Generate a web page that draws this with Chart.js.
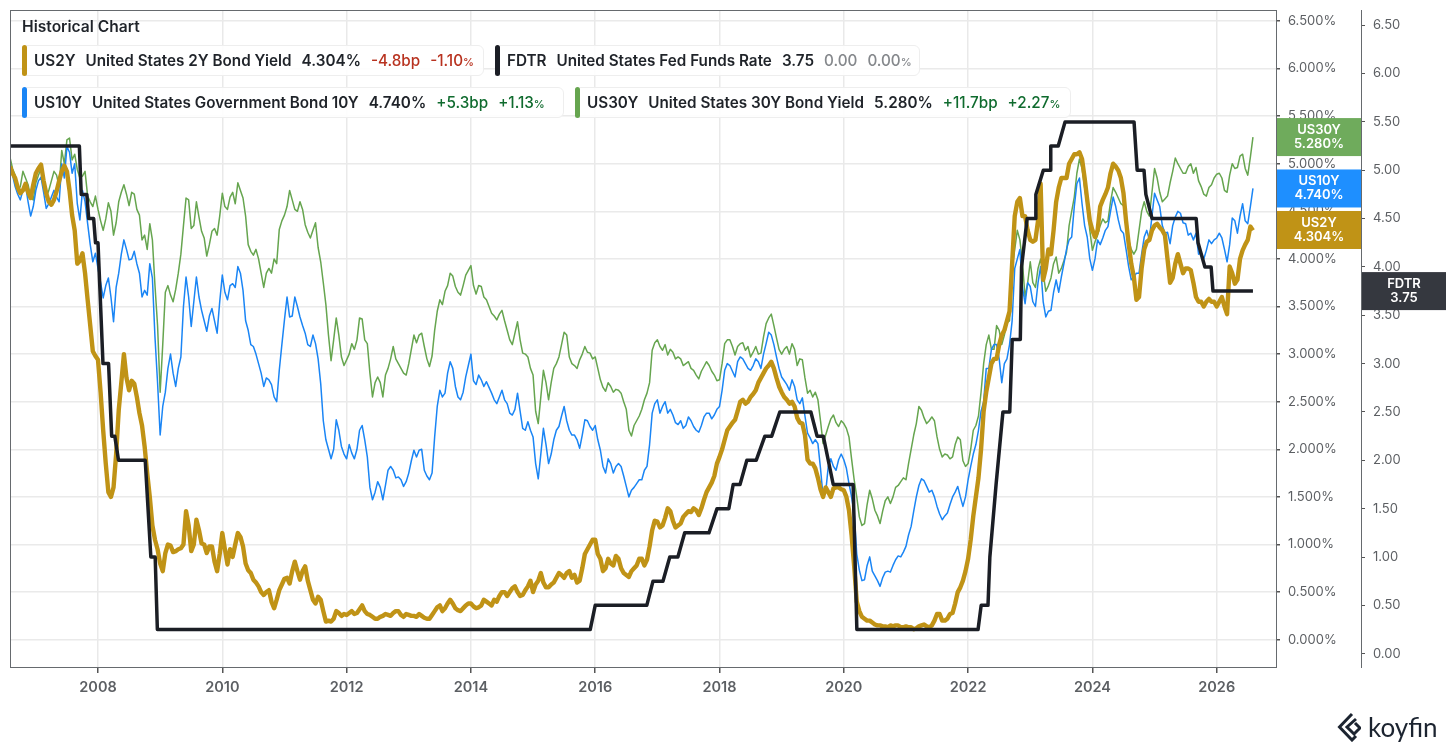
<!DOCTYPE html>
<html>
<head>
<meta charset="utf-8">
<title>Historical Chart</title>
<script src="https://cdn.jsdelivr.net/npm/chart.js@4"></script>
<style>
  html, body { margin: 0; padding: 0; background: #fff; width: 1456px; height: 752px; overflow: hidden; }
  body { position: relative; font-family: Inter, "Noto Sans", sans-serif; color: #1f2329; }
  canvas { position: absolute; left: 0; top: 0; }
  .title { position: absolute; left: 22px; top: 18px; font-size: 15.6px; font-weight: 600; line-height: 18px; }
  .chip { position: absolute; height: 31px; box-sizing: border-box; display: flex; align-items: center; gap: 10px;
          padding: 0 8px 0 11px; background: rgba(255,255,255,.88); border: 1px solid #eeeeee; border-radius: 6px;
          font-size: 15.25px; font-weight: 600; white-space: nowrap; }
  .chip i { position: absolute; left: -1px; top: -1px; bottom: -1px; width: 5px; border-radius: 3px; }
  .chip small { font-size: 11px; }
  .neg { color: #b8321f; font-weight: 500; }
  .pos { color: #0f6b2e; font-weight: 500; }
  .flat { color: #85888c; font-weight: 500; }
  .logo { position: absolute; left: 1337px; top: 709px; display: flex; align-items: center; gap: 7px; color: #1c2430; }
  .logo span { font-size: 26px; line-height: 36px; font-family: Lato, Inter, sans-serif; }
</style>
</head>
<body>
<canvas id="historyChart" width="1456" height="752"></canvas>
<div class="title">Historical Chart</div>
<div class="chip" style="left:22px;top:45px;width:462px"><i style="background:#c09316"></i><span>US2Y</span><span>United States 2Y Bond Yield</span><span>4.304%</span><span class="neg">-4.8bp</span><span class="neg">-1.10<small>%</small></span></div>
<div class="chip" style="left:495px;top:45px;width:425px"><i style="background:#1b1e25"></i><span>FDTR</span><span>United States Fed Funds Rate</span><span>3.75</span><span class="flat">0.00</span><span class="flat">0.00<small>%</small></span></div>
<div class="chip" style="left:22px;top:87px;width:542px"><i style="background:#1a85f5"></i><span>US10Y</span><span>United States Government Bond 10Y</span><span>4.740%</span><span class="pos">+5.3bp</span><span class="pos">+1.13<small>%</small></span></div>
<div class="chip" style="left:575px;top:87px;width:496px"><i style="background:#66a54f"></i><span>US30Y</span><span>United States 30Y Bond Yield</span><span>5.280%</span><span class="pos">+11.7bp</span><span class="pos">+2.27<small>%</small></span></div>
<div class="logo">
  <svg width="24" height="30" viewBox="0 0 24 30"><path d="M15 2 L2.5 15 L15 28 L19 24 M19 7 L10 15 L17 22 L23 16 L18 11" fill="none" stroke="#1c2430" stroke-width="3"/></svg>
  <span>koyfin</span>
</div>
<script>
// month of each yield reading, Aug 2006 to Aug 2026
const months = [
  '2006-08','2006-09','2006-10','2006-11','2006-12',
  '2007-01','2007-02','2007-03','2007-04','2007-05','2007-06','2007-07','2007-08','2007-09','2007-10','2007-11','2007-12',
  '2008-01','2008-02','2008-03','2008-04','2008-05','2008-06','2008-07','2008-08','2008-09','2008-10','2008-11','2008-12',
  '2009-01','2009-02','2009-03','2009-04','2009-05','2009-06','2009-07','2009-08','2009-09','2009-10','2009-11','2009-12',
  '2010-01','2010-02','2010-03','2010-04','2010-05','2010-06','2010-07','2010-08','2010-09','2010-10','2010-11','2010-12',
  '2011-01','2011-02','2011-03','2011-04','2011-05','2011-06','2011-07','2011-08','2011-09','2011-10','2011-11','2011-12',
  '2012-01','2012-02','2012-03','2012-04','2012-05','2012-06','2012-07','2012-08','2012-09','2012-10','2012-11','2012-12',
  '2013-01','2013-02','2013-03','2013-04','2013-05','2013-06','2013-07','2013-08','2013-09','2013-10','2013-11','2013-12',
  '2014-01','2014-02','2014-03','2014-04','2014-05','2014-06','2014-07','2014-08','2014-09','2014-10','2014-11','2014-12',
  '2015-01','2015-02','2015-03','2015-04','2015-05','2015-06','2015-07','2015-08','2015-09','2015-10','2015-11','2015-12',
  '2016-01','2016-02','2016-03','2016-04','2016-05','2016-06','2016-07','2016-08','2016-09','2016-10','2016-11','2016-12',
  '2017-01','2017-02','2017-03','2017-04','2017-05','2017-06','2017-07','2017-08','2017-09','2017-10','2017-11','2017-12',
  '2018-01','2018-02','2018-03','2018-04','2018-05','2018-06','2018-07','2018-08','2018-09','2018-10','2018-11','2018-12',
  '2019-01','2019-02','2019-03','2019-04','2019-05','2019-06','2019-07','2019-08','2019-09','2019-10','2019-11','2019-12',
  '2020-01','2020-02','2020-03','2020-04','2020-05','2020-06','2020-07','2020-08','2020-09','2020-10','2020-11','2020-12',
  '2021-01','2021-02','2021-03','2021-04','2021-05','2021-06','2021-07','2021-08','2021-09','2021-10','2021-11','2021-12',
  '2022-01','2022-02','2022-03','2022-04','2022-05','2022-06','2022-07','2022-08','2022-09','2022-10','2022-11','2022-12',
  '2023-01','2023-02','2023-03','2023-04','2023-05','2023-06','2023-07','2023-08','2023-09','2023-10','2023-11','2023-12',
  '2024-01','2024-02','2024-03','2024-04','2024-05','2024-06','2024-07','2024-08','2024-09','2024-10','2024-11','2024-12',
  '2025-01','2025-02','2025-03','2025-04','2025-05','2025-06','2025-07','2025-08','2025-09','2025-10','2025-11','2025-12',
  '2026-01','2026-02','2026-03','2026-04','2026-05','2026-06','2026-07','2026-08'
];

// readings at the start of each month
const us30y = [
  5.07,4.88,4.76,4.85,4.65,
  4.8,4.95,4.65,4.82,4.88,5.14,5.25,5.04,4.94,4.87,4.66,4.55,
  4.52,4.3,4.59,4.25,4.6,4.78,4.56,4.68,4.46,4.25,4.37,3.72,
  2.6,3.65,3.62,3.68,4.05,4.64,4.32,4.6,4.29,4.03,4.29,4.25,
  4.69,4.52,4.7,4.8,4.64,4.15,4.04,4.0,3.7,3.9,4.0,4.31,
  4.46,4.72,4.52,4.6,4.36,4.22,4.38,3.97,3.52,2.93,3.38,2.97,
  2.94,3.11,3.15,3.37,3.11,2.55,2.76,2.55,2.85,3.08,2.9,2.8,
  2.9,3.2,3.2,3.08,2.87,3.25,3.57,3.66,3.85,3.71,3.62,3.83,
  3.93,3.63,3.71,3.57,3.43,3.36,3.46,3.25,3.1,3.34,3.01,2.97,
  2.78,2.27,2.83,2.52,2.85,2.97,3.23,2.97,2.88,2.94,3.08,3.01,
  2.97,2.73,2.61,2.66,2.63,2.59,2.42,2.14,2.3,2.42,2.59,3.04,
  3.15,3.04,2.99,3.02,2.97,2.88,2.92,2.83,2.74,2.87,2.88,2.78,
  2.73,3.11,3.15,2.99,3.11,3.04,2.97,3.08,3.01,3.32,3.42,3.17,
  3.0,3.08,3.11,2.88,2.94,2.59,2.55,2.52,2.06,2.24,2.36,2.24,
  2.27,2.13,1.68,1.29,1.22,1.57,1.36,1.22,1.46,1.43,1.6,1.66,
  1.68,2.0,2.27,2.41,2.27,2.34,2.13,1.92,1.94,1.92,2.13,1.88,
  1.85,2.2,2.35,2.9,3.2,3.05,3.25,3.2,3.35,4.1,4.2,3.6,
  3.97,3.7,4.0,3.66,3.8,4.02,3.9,4.07,4.5,4.9,4.95,4.56,
  4.09,4.25,4.42,4.4,4.75,4.64,4.56,4.2,4.05,4.3,4.6,4.45,
  4.95,4.7,4.63,4.8,5.06,4.95,4.9,5.0,4.96,4.76,4.66,4.78,
  4.89,4.85,4.7,5.0,4.96,5.1,4.88,5.28
];
const us10y = [
  4.97,4.76,4.62,4.78,4.45,
  4.72,4.86,4.53,4.65,4.65,5.0,5.18,4.9,4.58,4.72,4.37,3.97,
  3.9,3.59,3.8,3.34,3.85,4.2,3.99,4.08,3.85,3.67,3.95,3.18,
  2.15,2.6,3.0,2.66,2.97,3.81,3.29,3.81,3.46,3.24,3.48,3.22,
  3.83,3.57,3.74,3.92,3.67,3.25,3.08,2.9,2.66,2.73,2.55,2.83,
  3.36,3.39,3.6,3.39,3.22,3.08,3.11,2.69,2.1,1.9,2.31,2.03,
  1.9,1.96,2.0,2.25,1.92,1.47,1.66,1.47,1.78,1.78,1.71,1.61,
  1.75,1.99,1.99,1.78,1.68,2.13,2.62,2.59,2.92,2.66,2.52,2.76,
  3.0,2.68,2.73,2.71,2.59,2.48,2.62,2.48,2.36,2.59,2.22,2.29,
  2.13,1.69,2.22,1.85,2.1,2.24,2.45,2.2,2.15,2.01,2.31,2.24,
  2.25,1.99,1.75,1.85,1.82,1.82,1.61,1.57,1.64,1.68,1.82,2.38,
  2.52,2.45,2.38,2.36,2.26,2.22,2.34,2.24,2.18,2.34,2.38,2.36,
  2.45,2.83,2.88,2.76,2.97,2.9,2.83,2.95,2.85,3.11,3.2,2.97,
  2.76,2.68,2.73,2.52,2.54,2.17,2.06,2.06,1.5,1.82,1.82,1.89,
  1.89,1.64,1.33,0.73,0.63,0.87,0.67,0.56,0.71,0.71,0.84,0.87,
  0.98,1.19,1.5,1.69,1.61,1.57,1.4,1.26,1.33,1.5,1.61,1.4,
  1.68,1.95,2.2,2.5,2.85,3.1,2.95,2.9,3.1,3.9,4.1,3.53,
  3.71,3.5,3.92,3.39,3.46,3.78,3.81,4.1,4.23,4.79,4.58,4.23,
  3.88,4.2,4.22,4.34,4.65,4.41,4.27,3.92,3.81,3.85,4.23,4.2,
  4.69,4.55,4.27,4.16,4.44,4.48,4.37,4.27,4.27,4.06,4.09,4.16,
  4.22,4.22,3.97,4.43,4.27,4.58,4.37,4.74
];
const us2y = [
  4.97,4.85,4.69,4.79,4.64,
  4.9,4.99,4.69,4.57,4.71,4.92,4.92,4.46,3.95,4.06,3.57,3.03,
  2.94,2.2,1.55,1.6,2.41,3.0,2.62,2.69,2.38,2.03,1.5,1.05,
  0.8,0.91,0.99,0.93,0.96,1.35,0.93,1.26,1.01,0.91,0.98,0.72,
  1.12,0.79,0.87,1.12,0.98,0.73,0.63,0.56,0.47,0.52,0.33,0.52,
  0.64,0.59,0.82,0.63,0.77,0.52,0.38,0.42,0.19,0.19,0.3,0.25,
  0.26,0.3,0.28,0.36,0.27,0.24,0.22,0.25,0.26,0.28,0.3,0.24,
  0.26,0.25,0.27,0.23,0.22,0.3,0.36,0.33,0.42,0.33,0.3,0.36,
  0.38,0.33,0.36,0.4,0.36,0.4,0.5,0.46,0.54,0.5,0.47,0.56,
  0.5,0.62,0.6,0.55,0.6,0.7,0.65,0.72,0.68,0.62,0.9,1.0,
  1.05,0.85,0.75,0.8,0.88,0.75,0.68,0.72,0.78,0.85,0.84,1.15,
  1.24,1.2,1.38,1.25,1.2,1.29,1.35,1.38,1.31,1.47,1.6,1.72,
  1.92,2.1,2.24,2.31,2.5,2.48,2.55,2.62,2.75,2.85,2.92,2.75,
  2.6,2.52,2.5,2.33,2.27,1.89,1.85,1.7,1.5,1.55,1.59,1.6,
  1.57,1.36,0.77,0.3,0.22,0.2,0.16,0.15,0.14,0.15,0.15,0.13,
  0.14,0.13,0.12,0.15,0.14,0.15,0.27,0.2,0.22,0.28,0.5,0.62,
  0.85,1.3,1.7,2.4,2.75,2.95,3.1,3.25,3.45,4.45,4.64,4.45,
  4.2,4.2,4.79,3.9,4.05,4.6,4.85,4.85,5.05,5.1,5.05,4.62,
  4.3,4.3,4.62,4.75,5.0,4.93,4.69,4.16,3.81,3.6,4.1,4.2,
  4.35,4.33,4.25,3.75,3.95,3.95,3.9,3.88,3.6,3.55,3.55,3.55,
  3.5,3.6,3.42,3.85,3.78,4.09,4.2,4.3
];

// readings halfway through each month, Aug 2006 to Jul 2026
const us30yMid = [
  4.95,4.72,4.92,4.78,4.62,
  4.88,4.75,4.72,4.92,4.76,5.0,5.27,5.1,4.85,4.92,4.6,4.66,
  4.4,4.42,4.5,4.38,4.7,4.68,4.7,4.52,4.2,4.1,4.2,3.3,
  3.1,3.72,3.55,3.85,4.35,4.62,4.35,4.44,4.22,4.15,4.32,4.45,
  4.55,4.65,4.58,4.72,4.45,4.08,4.1,3.85,3.85,3.85,3.95,4.4,
  4.55,4.62,4.5,4.52,4.28,4.3,4.12,3.75,3.2,3.15,3.2,2.88,
  3.0,3.05,3.38,3.15,2.8,2.7,2.7,2.78,2.95,2.95,2.85,2.78,
  3.05,3.12,3.22,2.95,2.98,3.45,3.52,3.72,3.82,3.65,3.72,3.88,
  3.72,3.72,3.6,3.5,3.4,3.42,3.35,3.15,3.22,3.15,3.0,2.85,
  2.4,2.55,2.7,2.7,2.9,3.1,3.2,2.9,2.85,3.0,3.02,2.95,
  2.85,2.65,2.7,2.6,2.62,2.5,2.2,2.25,2.35,2.52,2.7,3.12,
  3.08,3.1,3.05,2.95,2.95,2.9,2.85,2.78,2.82,2.92,2.82,2.72,
  2.9,3.15,3.08,3.08,3.12,3.08,3.02,3.0,3.18,3.38,3.3,3.05,
  3.05,3.0,3.05,2.95,2.75,2.62,2.6,2.3,2.15,2.32,2.28,2.3,
  2.22,1.9,1.5,1.2,1.42,1.48,1.3,1.35,1.5,1.5,1.62,1.7,
  1.85,2.15,2.45,2.33,2.3,2.3,2.0,1.95,1.9,2.05,2.1,1.82,
  2.0,2.25,2.6,3.1,3.05,3.3,3.1,3.33,3.9,4.3,3.95,3.75,
  3.75,3.9,3.85,3.72,3.95,3.85,3.98,4.35,4.65,5.05,4.75,4.3,
  4.18,4.35,4.38,4.6,4.7,4.58,4.35,4.1,4.1,4.5,4.5,4.7,
  4.85,4.6,4.66,4.92,5.0,4.9,4.97,4.9,4.82,4.68,4.75,4.85,
  4.9,4.72,4.88,4.95,5.08,4.95,5.07
];
const us10yMid = [
  4.88,4.68,4.72,4.6,4.55,
  4.82,4.7,4.58,4.72,4.6,4.85,5.12,5.0,4.41,4.6,4.15,4.06,
  3.75,3.72,3.6,3.7,4.05,4.1,4.0,3.95,3.6,3.62,3.8,2.7,
  2.45,2.85,2.8,2.85,3.5,3.6,3.55,3.6,3.35,3.4,3.35,3.55,
  3.65,3.72,3.7,3.85,3.35,3.1,3.0,2.8,2.75,2.68,2.5,3.1,
  3.6,3.4,3.5,3.3,3.1,3.2,2.95,2.3,2.0,2.0,2.2,1.95,
  2.05,1.9,2.2,2.1,1.6,1.55,1.6,1.62,1.82,1.7,1.68,1.66,
  1.88,1.92,2.0,1.72,1.75,2.45,2.55,2.8,2.85,2.55,2.6,2.88,
  2.72,2.78,2.66,2.65,2.52,2.55,2.52,2.38,2.42,2.4,2.2,2.2,
  1.85,1.95,2.05,1.95,2.2,2.35,2.3,2.15,2.1,2.15,2.3,2.2,
  2.1,1.82,1.9,1.75,1.85,1.72,1.5,1.6,1.68,1.78,2.05,2.48,
  2.38,2.5,2.42,2.28,2.3,2.25,2.3,2.2,2.25,2.38,2.32,2.42,
  2.62,2.9,2.82,2.92,2.95,2.85,2.88,2.92,3.0,3.23,3.1,2.85,
  2.72,2.62,2.66,2.48,2.35,2.12,2.1,1.8,1.55,1.9,1.78,1.95,
  1.8,1.5,0.9,0.62,0.78,0.72,0.62,0.65,0.72,0.78,0.88,0.92,
  1.1,1.35,1.62,1.67,1.55,1.5,1.32,1.3,1.42,1.55,1.5,1.5,
  1.82,2.05,2.4,2.85,3.05,3.1,2.7,2.95,3.35,4.0,3.7,3.75,
  3.55,3.75,3.55,3.45,3.65,3.65,3.95,4.2,4.55,4.85,4.35,4.0,
  4.0,4.15,4.3,4.5,4.55,4.3,4.1,3.78,3.85,4.05,4.3,4.45,
  4.62,4.35,4.28,4.35,4.5,4.38,4.25,4.2,4.05,4.0,4.2,4.2,
  4.27,4.1,4.15,4.4,4.45,4.4,4.55
];
const us2yMid = [
  4.9,4.75,4.72,4.7,4.78,
  4.95,4.82,4.6,4.62,4.82,4.98,4.72,4.3,3.98,3.85,3.3,2.98,
  2.6,1.85,1.5,1.95,2.7,2.75,2.72,2.55,2.25,1.75,1.2,0.95,
  0.72,1.0,0.92,0.95,1.0,1.2,1.0,1.15,1.0,0.98,0.82,0.9,
  0.95,0.95,1.0,1.08,0.8,0.7,0.6,0.5,0.5,0.4,0.42,0.58,
  0.65,0.72,0.72,0.72,0.62,0.42,0.45,0.3,0.2,0.22,0.28,0.27,
  0.28,0.27,0.32,0.3,0.26,0.22,0.24,0.27,0.25,0.3,0.26,0.27,
  0.25,0.24,0.25,0.22,0.26,0.34,0.3,0.38,0.38,0.31,0.33,0.38,
  0.35,0.34,0.42,0.38,0.42,0.46,0.5,0.5,0.56,0.46,0.52,0.62,
  0.58,0.7,0.55,0.58,0.65,0.68,0.7,0.65,0.6,0.75,0.95,1.05,
  0.9,0.72,0.85,0.78,0.85,0.7,0.66,0.75,0.85,0.78,0.98,1.25,
  1.18,1.28,1.35,1.18,1.22,1.32,1.34,1.36,1.38,1.55,1.65,1.85,
  2.0,2.2,2.28,2.4,2.52,2.5,2.58,2.7,2.8,2.88,2.85,2.66,
  2.55,2.48,2.45,2.28,2.15,1.85,1.8,1.58,1.6,1.5,1.6,1.58,
  1.5,1.1,0.4,0.24,0.2,0.18,0.15,0.14,0.13,0.14,0.15,0.13,
  0.13,0.11,0.14,0.16,0.13,0.2,0.27,0.2,0.27,0.38,0.55,0.72,
  1.05,1.5,2.0,2.6,2.9,2.95,3.2,3.35,3.95,4.6,4.45,4.3,
  4.18,4.4,3.78,4.1,4.3,4.75,4.85,5.0,5.1,5.12,4.85,4.4,
  4.23,4.55,4.68,4.9,4.97,4.85,4.4,3.95,3.57,3.9,4.18,4.3,
  4.37,4.3,4.0,3.8,4.05,3.85,3.9,3.75,3.55,3.5,3.58,3.55,
  3.55,3.5,3.92,3.74,4.0,4.15,4.34
];

// fed funds target: each move starts and ends on its own date
const fdtrDates = [
  2006.584,2007.70,2007.73,2007.82,2007.85,2007.93,2007.96,2008.0,2008.08,2008.17,2008.22,2008.27,2008.33,
  2008.76,2008.85,2008.92,2008.955,2015.92,2016.0,2016.83,2016.93,2017.09,2017.20,2017.33,2017.44,2017.83,
  2017.96,2018.15,2018.22,2018.33,2018.44,2018.59,2018.73,2018.84,2018.97,2019.47,2019.57,2019.67,2019.83,
  2020.15,2020.21,2022.16,2022.21,2022.32,2022.35,2022.45,2022.56,2022.67,2022.71,2022.84,2022.86,2022.95,
  2023.08,2023.09,2023.21,2023.32,2023.33,2023.45,2023.56,2024.67,2024.72,2024.83,2024.86,2024.96,2025.67,
  2025.70,2025.81,2025.91,2025.94,2026.583
];
const fdtrValues = [
  5.25,5.25,4.75,4.75,4.5,4.5,4.25,4.25,3.0,3.0,2.25,2.25,2.0,
  2.0,1.0,1.0,0.25,0.25,0.5,0.5,0.75,0.75,1.0,1.0,1.25,1.25,
  1.5,1.5,1.75,1.75,2.0,2.0,2.25,2.25,2.5,2.5,2.25,2.25,1.75,
  1.75,0.25,0.25,0.5,0.5,1.0,1.75,2.5,2.5,3.25,3.25,4.0,4.5,
  4.5,4.75,5.0,5.0,5.25,5.25,5.5,5.5,5.0,5.0,4.75,4.5,4.5,
  4.25,4.0,4.0,3.75,3.75
];

const yearTicks = [2008,2010,2012,2014,2016,2018,2020,2022,2024,2026];
const yieldTicks = [0,0.5,1,1.5,2,2.5,3,3.5,4,4.5,5,5.5,6,6.5];
const fdtrTicks = [0,0.5,1,1.5,2,2.5,3,3.5,4,4.5,5,5.5,6,6.5];

const lastTags = [
  { axis: 'yPct', value: 5.28, lines: ['US30Y', '5.280%'], color: '#6fab5c' },
  { axis: 'yPct', value: 4.74, lines: ['US10Y', '4.740%'], color: '#1e8fff' },
  { axis: 'yPct', value: 4.304, lines: ['US2Y', '4.304%'], color: '#c09316' },
  { axis: 'yFed', value: 3.75, lines: ['FDTR', '3.75'], color: '#35383f' }
];

const monthToYear = m => Number(m.slice(0, 4)) + (Number(m.slice(5)) - 1) / 12;

// puts the start-of-month and mid-month readings back in date order
function toPoints(values, midValues) {
  const points = [];
  values.forEach((v, i) => {
    points.push({ x: monthToYear(months[i]), y: v });
    if (i < midValues.length) points.push({ x: monthToYear(months[i]) + 1 / 24, y: midValues[i] });
  });
  return points;
}

// frame round the plot and the coloured last-value tags on the axes
const framePlugin = {
  id: 'frame',
  afterDraw(chart) {
    const { ctx, chartArea: a, scales } = chart;
    ctx.save();
    ctx.strokeStyle = '#666a6e';
    ctx.lineWidth = 1;
    ctx.strokeRect(a.left + 0.5, a.top + 0.5, a.width, a.height);
    ctx.textAlign = 'center';
    ctx.textBaseline = 'middle';
    ctx.font = '600 13px Inter';
    lastTags.forEach(tag => {
      const scale = scales[tag.axis];
      const y = scale.getPixelForValue(tag.value);
      ctx.fillStyle = tag.color;
      ctx.fillRect(scale.left + 1, y - 19, 84, 38);
      ctx.fillStyle = '#fff';
      ctx.fillText(tag.lines[0], scale.left + 43, y - 7);
      ctx.fillText(tag.lines[1], scale.left + 43, y + 7);
    });
    ctx.restore();
  }
};

const ctx = document.getElementById('historyChart').getContext('2d');
const historyChart = new Chart(ctx, {
  type: 'line',
  data: {
    datasets: [
      { label: 'FDTR', data: fdtrDates.map((d, i) => ({ x: d, y: fdtrValues[i] })), yAxisID: 'yFed', borderColor: '#1b1e25', borderWidth: 3.5 },
      { label: 'US2Y', data: toPoints(us2y, us2yMid), yAxisID: 'yPct', borderColor: '#c09316', borderWidth: 4.4 },
      { label: 'US10Y', data: toPoints(us10y, us10yMid), yAxisID: 'yPct', borderColor: '#1a85f5', borderWidth: 1.5 },
      { label: 'US30Y', data: toPoints(us30y, us30yMid), yAxisID: 'yPct', borderColor: '#66a54f', borderWidth: 1.5 }
    ]
  },
  options: {
    responsive: false,
    animation: false,
    layout: { padding: { left: 10, top: 10, right: 0, bottom: 0 } },
    elements: { point: { radius: 0 }, line: { tension: 0, borderJoinStyle: 'round' } },
    plugins: { legend: { display: false }, tooltip: { enabled: false } },
    scales: {
      x: {
        type: 'linear',
        min: 2006.584,
        max: 2026.954,
        afterBuildTicks: axis => { axis.ticks = yearTicks.map(v => ({ value: v })); },
        afterFit: axis => { axis.height = 85; axis.paddingLeft = 0; axis.paddingRight = 0; },
        grid: { color: '#e9e9e9', lineWidth: 1.5, tickColor: '#555', tickLength: 6 },
        border: { display: false },
        ticks: { color: '#5c5f63', maxRotation: 0, padding: 6, font: { family: 'Inter', size: 14.5, weight: '600' }, callback: v => String(v) }
      },
      yPct: {
        position: 'right',
        weight: 1,
        min: -0.287,
        max: 6.615,
        afterBuildTicks: axis => { axis.ticks = yieldTicks.map(v => ({ value: v })); },
        afterFit: axis => { axis.width = 85; axis.paddingTop = 0; axis.paddingBottom = 0; },
        grid: { color: '#eaeaea', lineWidth: 1.5, tickColor: '#555', tickLength: 4 },
        border: { display: false },
        ticks: { color: '#5c5f63', padding: 8, font: { family: 'Inter', size: 13 }, callback: v => v.toFixed(3) + '%' }
      },
      yFed: {
        position: 'right',
        weight: 2,
        min: -0.1375,
        max: 6.657,
        afterBuildTicks: axis => { axis.ticks = fdtrTicks.map(v => ({ value: v })); },
        afterFit: axis => { axis.width = 95; axis.paddingTop = 0; axis.paddingBottom = 0; },
        grid: { drawOnChartArea: false, tickColor: '#555', tickLength: 4 },
        border: { display: true, color: '#666a6e', width: 1 },
        ticks: { color: '#5c5f63', padding: 8, font: { family: 'Inter', size: 13 }, callback: v => v.toFixed(2) }
      }
    }
  },
  plugins: [framePlugin]
});
</script>
</body>
</html>
